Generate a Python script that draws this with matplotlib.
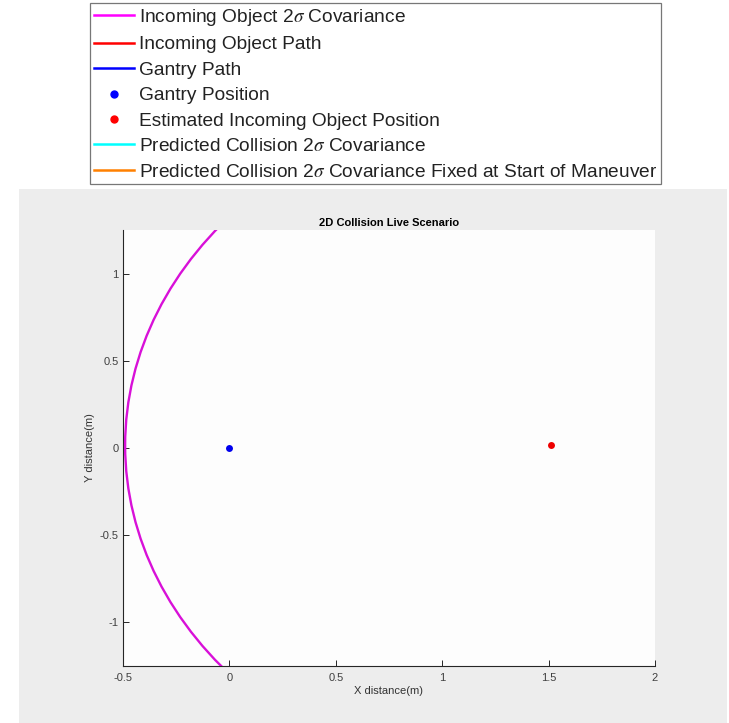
import matplotlib
matplotlib.use("Agg")
import matplotlib.pyplot as plt
from matplotlib.patches import Ellipse, Rectangle
from matplotlib.lines import Line2D

plt.rcParams['font.family'] = ['Liberation Sans', 'DejaVu Sans']
plt.rcParams['mathtext.fontset'] = 'stix'

# Data
gantry_pos = (0.0, 0.0)
object_pos = (1.51, 0.015)
object_2sigma_radius = 2.0
xlim = (-0.5, 2.0)
ylim = (-1.25, 1.25)
xticks = [-0.5, 0, 0.5, 1, 1.5, 2]
xticklabels = ['-0.5', '0', '0.5', '1', '1.5', '2']
yticks = [-1, -0.5, 0, 0.5, 1]
yticklabels = ['-1', '-0.5', '0', '0.5', '1']
legend_labels = [
    r'Incoming Object 2$\sigma$ Covariance',
    'Incoming Object Path',
    'Gantry Path',
    'Gantry Position',
    'Estimated Incoming Object Position',
    r'Predicted Collision 2$\sigma$ Covariance',
    r'Predicted Collision 2$\sigma$ Covariance Fixed at Start of Maneuver',
]

W, H = 729, 723
fig = plt.figure(figsize=(W / 100, H / 100), dpi=100, facecolor='white')

# gray figure panel
fig.patches.append(Rectangle((19 / W, 0), (727 - 19) / W, (H - 189) / H,
                             transform=fig.transFigure, facecolor='#ededed',
                             edgecolor='none', zorder=-5))

ax = fig.add_axes([123 / W, 57 / H, (655 - 123) / W, (666 - 230) / H])
ax.set_zorder(2)
ax.set_facecolor('#fdfdfd')

ell = Ellipse(object_pos, 2 * object_2sigma_radius, 2 * object_2sigma_radius,
              fill=False, edgecolor='#d810d8', lw=1.7, zorder=3)
ax.add_patch(ell)
ax.plot([gantry_pos[0]], [gantry_pos[1]], 'o', color='#0000ee', ms=5, mec='none', zorder=4)
ax.plot([object_pos[0]], [object_pos[1]], 'o', color='#ee0000', ms=5, mec='none', zorder=4)

ax.set_xlim(*xlim)
ax.set_ylim(*ylim)
ax.set_xticks(xticks)
ax.set_xticklabels(xticklabels)
ax.set_yticks(yticks)
ax.set_yticklabels(yticklabels)
for s in ['top', 'right']:
    ax.spines[s].set_visible(False)
for s in ['left', 'bottom']:
    ax.spines[s].set_color('#262626')
    ax.spines[s].set_linewidth(0.8)
ax.tick_params(direction='in', length=4, width=0.7, labelsize=8,
               colors='#262626', labelcolor='#404040')
ax.tick_params(axis='x', pad=5)
ax.tick_params(axis='y', pad=3)
ax.set_title('2D Collision Live Scenario', fontsize=8, fontweight='bold', pad=3)
ax.set_xlabel('X distance(m)', fontsize=8, color='#333333', labelpad=2)
ax.set_ylabel('Y distance(m)', fontsize=8, color='#333333', labelpad=3.5)

handles = [
    Line2D([], [], color='#ff00ff', lw=1.8),
    Line2D([], [], color='#ff0000', lw=1.8),
    Line2D([], [], color='#0000ff', lw=1.8),
    Line2D([], [], color='#0000ff', lw=0, marker='o', ms=5),
    Line2D([], [], color='#ff0000', lw=0, marker='o', ms=5),
    Line2D([], [], color='#00ffff', lw=1.8),
    Line2D([], [], color='#ff8000', lw=1.8),
]
leg = fig.legend(handles, legend_labels, loc='upper left',
                 bbox_to_anchor=(90 / W, 1 - 3 / H), fontsize=13.8,
                 frameon=True, fancybox=False, edgecolor='#555555',
                 handlelength=2.1, handletextpad=0.25, labelspacing=0.42,
                 borderpad=0.2, borderaxespad=0.0)
leg.get_frame().set_linewidth(0.9)
for t in leg.get_texts():
    t.set_color('#222222')

fig.savefig('out.png', dpi=100, facecolor='white')
